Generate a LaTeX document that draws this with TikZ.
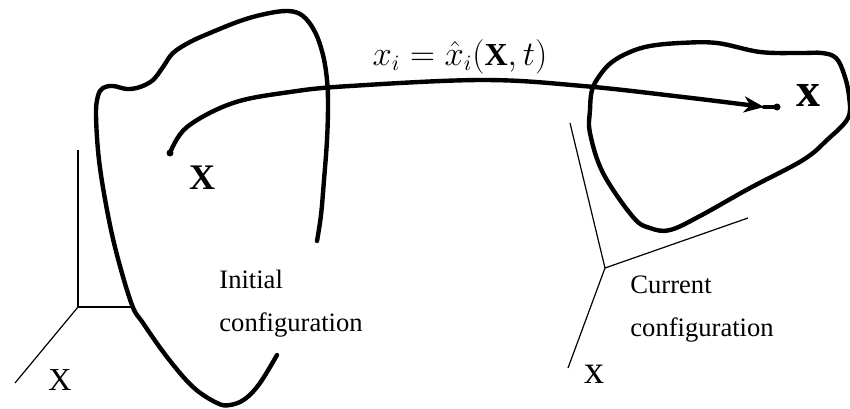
\documentclass[tikz,border=0pt]{standalone}
\usepackage{fontspec}
\setmainfont{Liberation Serif}
\usetikzlibrary{arrows.meta}

\begin{document}
\begin{tikzpicture}[x=0.5pt, y=0.5pt,
	blob/.style={line width=2.2pt, line join=round, line cap=round},
	axis/.style={line width=0.6pt},
	lbl/.style={font=\fontsize{13.3}{21.5}\selectfont, align=left, anchor=west, inner sep=0pt}]
	\useasboundingbox (0,0) rectangle (850,408);
	% initial configuration
	\draw[blob] plot[smooth, tension=0.6] coordinates {(317,167) (321,193) (324,228) (327,268) (328,303) (327,328) (323,353) (315,376) (303,392) (288,397) (265,394) (240,387) (210,375) (190,366) (173,355) (163,341) (153,328) (140,321) (127,319) (113,322) (103,320) (98,312) (96,293) (99,248) (107,198) (117,153) (132,103) (143,85) (167,51) (193,21) (217,5) (230,3) (245,9) (260,25) (277,53)};
	\draw[axis] (78,258) -- (78,101) -- (132,101); \draw[axis] (78,101) -- (15,25);
	\node[font=\fontsize{16}{16}\selectfont] (axX) at (60,28) {X};
	\node[lbl] (init) at (219,104) {Initial\\configuration};
	% current configuration
	\draw[blob] plot[smooth cycle, tension=0.6] coordinates {(590,298) (592,318) (600,333) (612,346) (630,356) (650,362) (680,365) (717,365) (760,356) (800,355) (822,355) (836,350) (844,334) (849,312) (848,290) (827,268) (803,248) (750,220) (700,192) (670,178) (650,180) (633,191) (603,235) (590,275)};
	\draw[axis] (570,285) -- (605,140) -- (748,190); \draw[axis] (605,140) -- (568,40);
	\node[font=\fontsize{20}{20}\selectfont] (axx) at (594,34) {x};
	\node[lbl] (curr) at (630,99) {Current\\configuration};
	% mapping
	\coordinate (P) at (170,255); \coordinate (tip) at (764,301); \coordinate (p) at (777,301);
	\draw[blob, -{Stealth[length=10pt, width=8pt, inset=3pt]}] plot[smooth, tension=0.6] coordinates {(P) (187,281) (233,305) (290,316) (350,322) (483,328) (583,322) (683,311) (tip)};
	\draw[blob] (tip) -- (p);
	\fill (P) circle (3.5); \fill (p) circle (3.5);
	\node[font=\fontsize{18}{18}\selectfont\bfseries] (X) at (202,230) {X};
	\node[font=\fontsize{24}{24}\selectfont\bfseries] (x) at (808,313) {x};
	\node[font=\fontsize{16}{19}\selectfont] (map) at (460,351) {$x_i = \hat{x}_i(\mathbf{X},t)$};
\end{tikzpicture}
\end{document}
